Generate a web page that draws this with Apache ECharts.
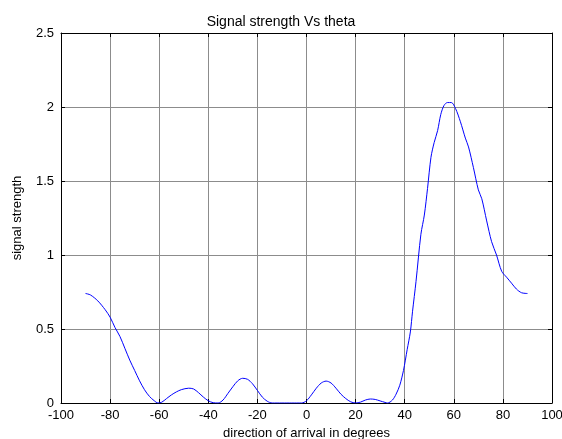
<!DOCTYPE html>
<html><head><meta charset="utf-8">
<script src="https://cdn.jsdelivr.net/npm/echarts@6/dist/echarts.min.js"></script>
<style>html,body{margin:0;padding:0;background:#fff}#c{width:562px;height:439px}</style>
</head><body><div id="c"></div>
<script>
const titleText = 'Signal strength Vs theta';
const xName = 'direction of arrival in degrees';
const yName = 'signal strength';
const xTicks = [-100,-80,-60,-40,-20,0,20,40,60,80,100];
const yTicks = [0,0.5,1,1.5,2,2.5];
const theta = [-90,-88,-85,-82,-80,-78,-76,-74,-72,-70,-68,-66,-64,-62,-60.5,-59,-57,-55,-53,-51,-48,-46,-44,-42,-40,-38,-36,-34,-32,-30,-28,-26,-24,-22,-20,-18,-16,-14,-12,-10,-8,-6,-4,-2,0,2,4,6,8,10,12,14,16,18,20,22,24,26,28,30,32,33,35,36.5,38,39.5,41,42.3,43.2,44.6,46.6,48,49.3,50.7,52,53.4,54.7,56,57.4,59,60.7,62.7,64.7,66,68,70,71.4,73.4,75.4,77.4,79.5,81.5,83.5,85.5,87.6,90];
const strength = [0.74,0.73,0.69,0.63,0.58,0.51,0.45,0.37,0.29,0.22,0.15,0.09,0.045,0.015,0.0,0.005,0.03,0.055,0.075,0.09,0.1,0.095,0.07,0.04,0.015,0.002,0.0,0.02,0.065,0.11,0.15,0.167,0.16,0.13,0.085,0.04,0.012,0.0,0.0,0.0,0.0,0.0,0.0,0.0,0.015,0.055,0.1,0.135,0.148,0.135,0.1,0.06,0.03,0.008,0.0,0.006,0.02,0.027,0.024,0.014,0.004,0.0,0.02,0.06,0.12,0.22,0.36,0.48,0.62,0.82,1.14,1.27,1.45,1.66,1.76,1.84,1.95,2.01,2.03,2.03,1.99,1.9,1.79,1.73,1.59,1.44,1.38,1.23,1.09,1.0,0.89,0.85,0.81,0.77,0.745,0.74];

const data = theta.map((t,i)=>[t,strength[i]]);
const font = 'Liberation Sans, Arial, sans-serif';
const chart = echarts.init(document.getElementById('c'), null, {renderer:'canvas'});
const gridLine = {show:true, lineStyle:{color:'#8c8c8c', width:1, type:'solid'}};
chart.setOption({
  animation:false,
  title:{text:titleText, left:'center', top:10, textStyle:{fontFamily:font, fontSize:14, fontWeight:'normal', color:'#000'}},
  grid:{left:61, right:10, top:33, bottom:36, show:false, containLabel:false, outerBoundsMode:'none'},
  xAxis:[{
    type:'value', min:xTicks[0], max:xTicks[xTicks.length-1], interval:20,
    name:xName, nameLocation:'middle', nameGap:24,
    nameTextStyle:{fontFamily:font, fontSize:13, color:'#000'},
    axisLine:{show:true, onZero:false, lineStyle:{color:'#000', width:1}},
    axisTick:{show:true, inside:true, length:4, lineStyle:{color:'#000'}},
    axisLabel:{fontFamily:font, fontSize:13, color:'#000', margin:6, hideOverlap:false},
    splitLine:gridLine
  },{
    type:'value', position:'top', min:xTicks[0], max:xTicks[xTicks.length-1], interval:20,
    axisLine:{show:true, onZero:false, lineStyle:{color:'#000', width:1}},
    axisTick:{show:true, inside:true, length:4, lineStyle:{color:'#000'}},
    axisLabel:{show:false}, splitLine:{show:false}
  }],
  yAxis:[{
    type:'value', min:yTicks[0], max:yTicks[yTicks.length-1], interval:0.5,
    name:yName, nameLocation:'middle', nameGap:37, nameRotate:90,
    nameTextStyle:{fontFamily:font, fontSize:13, color:'#000'},
    axisLine:{show:true, onZero:false, lineStyle:{color:'#000', width:1}},
    axisTick:{show:true, inside:true, length:4, lineStyle:{color:'#000'}},
    axisLabel:{fontFamily:font, fontSize:13, color:'#000', margin:7},
    splitLine:gridLine
  },{
    type:'value', position:'right', min:yTicks[0], max:yTicks[yTicks.length-1], interval:0.5,
    axisLine:{show:true, onZero:false, lineStyle:{color:'#000', width:1}},
    axisTick:{show:true, inside:true, length:4, lineStyle:{color:'#000'}},
    axisLabel:{show:false}, splitLine:{show:false}
  }],
  series:[{
    type:'line', data:data, xAxisIndex:0, yAxisIndex:0, showSymbol:false, smooth:0.3,
    lineStyle:{color:'#0000ff', width:1}
  }]
});
</script></body></html>
